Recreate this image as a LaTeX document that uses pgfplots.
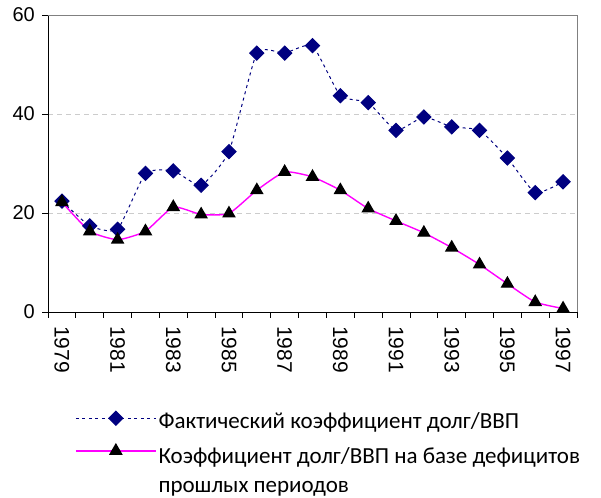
\documentclass[border=0pt]{standalone}
\usepackage{fontspec}
\setmainfont{Liberation Sans}
\newfontfamily\calibri{Carlito}
\usepackage{pgfplots}
\pgfplotsset{compat=1.18}
\definecolor{navyd}{HTML}{000080}
\definecolor{pinkl}{HTML}{FF00FF}
\newcommand\lgf{\calibri\fontsize{23bp}{29bp}\selectfont}
\begin{document}
\begin{tikzpicture}
\path[use as bounding box] (0,0) rectangle (601bp,498bp);
\begin{axis}[
  at={(48bp,186bp)}, anchor=south west,
  scale only axis, width=529bp, height=297bp,
  xmin=1978.5, xmax=1997.5, ymin=0, ymax=60,
  axis x line*=bottom, axis y line*=left,
  axis line style={black, line width=0.8pt, -},
  xtick={1979,1981,...,1997},
  minor xtick={1978.5,1979.5,...,1997.5},
  major x tick style={draw=none},
  minor x tick style={black, line width=0.8pt},
  minor tick length=6bp,
  ytick={0,20,40,60},
  y tick style={black, line width=0.8pt},
  major tick length=6bp,
  tick align=outside,
  ymajorgrids,
  grid style={dashed, dash pattern=on 5bp off 4bp, gray!40, line width=0.8pt},
  /pgf/number format/assume math mode=true,
  xticklabel={\pgfmathprintnumber[1000 sep={}]{\tick}},
  xticklabel style={rotate=-90, anchor=west, font=\fontsize{21bp}{24bp}\selectfont, inner sep=0pt, xshift=8bp},
  yticklabel style={font=\fontsize{20bp}{24bp}\selectfont, inner sep=0pt, xshift=-7bp},
  legend style={at={(0.051,-0.331)}, anchor=north west, draw=none, fill=none, inner sep=0pt,
    font=\lgf, row sep=9bp,
    cells={anchor=base west}},
  legend cell align=left,
  legend image code/.code={\draw[mark repeat=2,mark phase=2,#1] plot coordinates {(0bp,0.3em) (40bp,0.3em) (80bp,0.3em)};},
  clip=false,
]
\addplot[navyd, line width=1pt, dash pattern=on 3bp off 3.5bp, smooth, tension=0.3,
  mark=square*, mark size=5bp, mark options={solid, rotate=45, fill=navyd, draw=navyd}]
coordinates {
(1979,22.4) (1980,17.4) (1981,16.7) (1982,28.0) (1983,28.5) (1984,25.6) (1985,32.4)
(1986,52.3) (1987,52.3) (1988,53.8) (1989,43.7) (1990,42.3) (1991,36.7) (1992,39.4)
(1993,37.4) (1994,36.7) (1995,31.1) (1996,24.1) (1997,26.3)};
\addlegendentry{\lgf Фактический коэффициент долг/ВВП}
\addplot[pinkl, line width=1.4pt, smooth, tension=0.3,
  mark=triangle*, mark size=6.5bp, mark options={solid, fill=black, draw=black}]
coordinates {
(1979,22.2) (1980,16.3) (1981,14.6) (1982,16.3) (1983,21.2) (1984,19.7) (1985,19.9)
(1986,24.6) (1987,28.3) (1988,27.3) (1989,24.6) (1990,20.9) (1991,18.4) (1992,16.0)
(1993,13.0) (1994,9.6) (1995,5.7) (1996,2.0) (1997,0.7)};
\addlegendentry{\lgf\begin{tabular}[t]{@{}l@{}}Коэффициент долг/ВВП на базе дефицитов\\[0pt]прошлых периодов\end{tabular}}
\draw[gray, line width=0.8pt] (rel axis cs:0,1) -- (rel axis cs:1,1) -- (rel axis cs:1,0);
\end{axis}
\end{tikzpicture}
\end{document}
